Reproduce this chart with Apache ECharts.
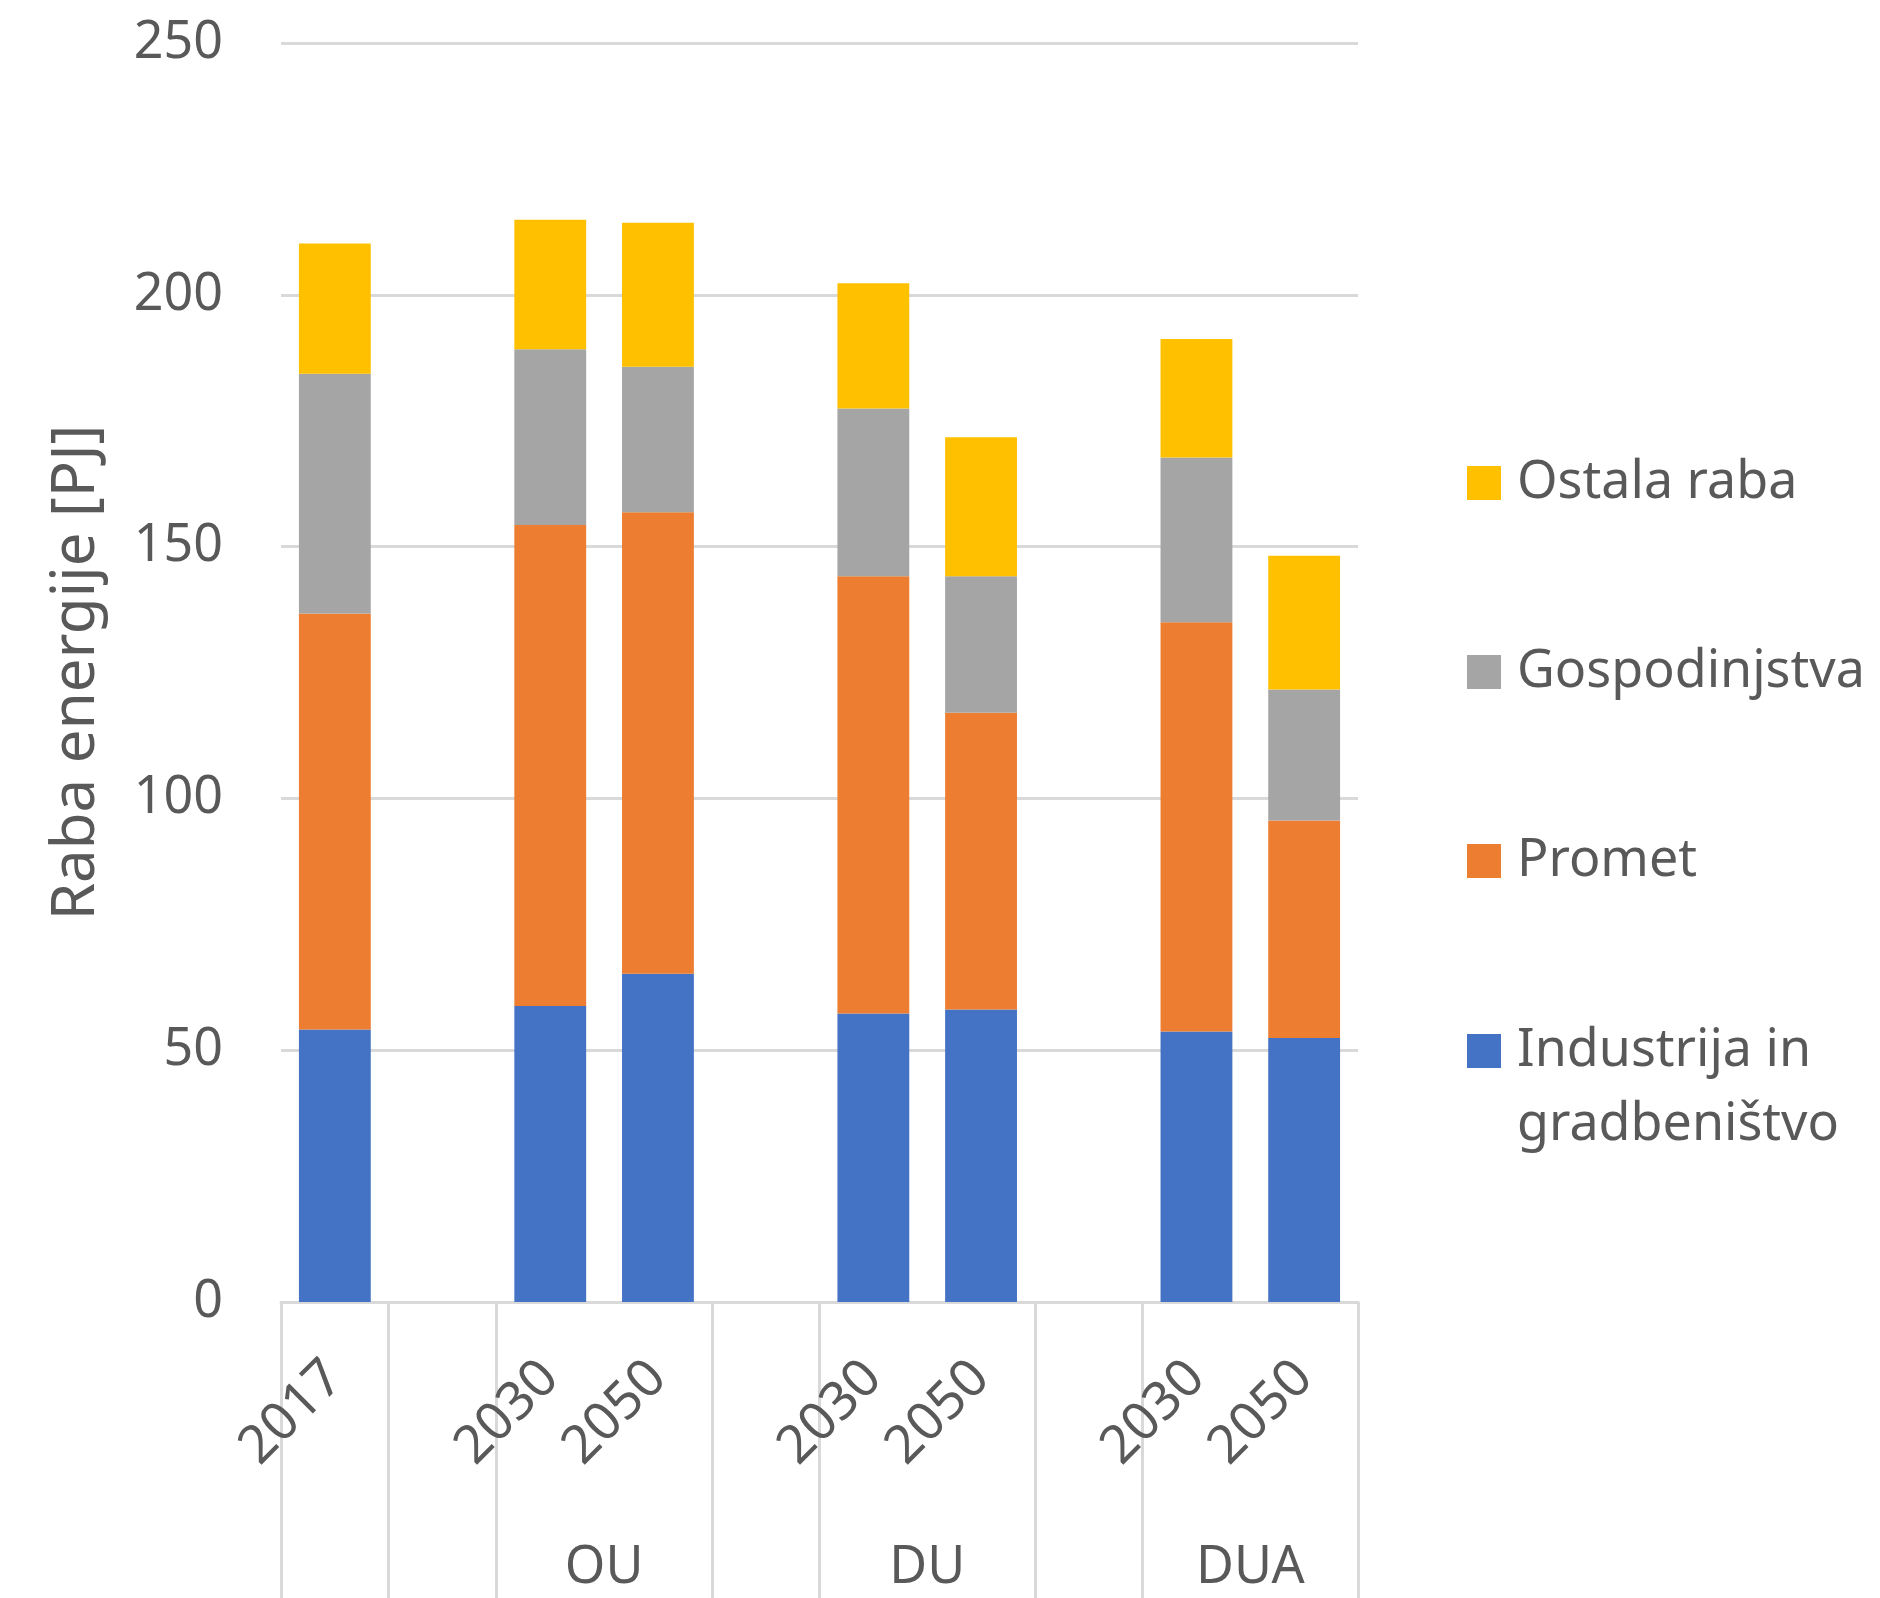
<!DOCTYPE html>
<html>
<head>
<meta charset="utf-8">
<script src="https://cdn.jsdelivr.net/npm/echarts@6/dist/echarts.min.js"></script>
<style>
  html, body { margin: 0; padding: 0; background: #ffffff; }
  #chart { width: 1880px; height: 1598px; }
</style>
</head>
<body>
<div id="chart"></div>
<script>
// Final energy use by sector [PJ]: 2017 baseline and three scenarios (OU, DU, DUA)
const categories = ['2017', '', '2030', '2050', '', '2030', '2050', '', '2030', '2050'];
const scenarioGroups = ['', '', 'OU', 'OU', '', 'DU', 'DU', '', 'DUA', 'DUA'];

const industrija    = [54.1, null, 58.8, 65.2, null, 57.3, 58.1, null, 53.7, 52.4];
const promet        = [82.6, null, 95.5, 91.6, null, 86.8, 58.9, null, 81.3, 43.2];
const gospodinjstva = [47.6, null, 34.9, 28.9, null, 33.3, 27.1, null, 32.7, 26.0];
const ostalaRaba    = [25.9, null, 25.7, 28.6, null, 24.9, 27.6, null, 23.5, 26.6];

const yMin = 0, yMax = 250, yStep = 50;

const FONT = '"Noto Sans", "Open Sans", sans-serif';
const TEXT = '#595959';
const RULE = '#d9d9d9';

// Centre of each scenario group, in category units along the axis
const groupCentres = {};
(function () {
  const acc = {};
  scenarioGroups.forEach(function (g, i) {
    if (!g) return;
    (acc[g] = acc[g] || []).push(i + 0.5);
  });
  Object.keys(acc).forEach(function (g) {
    const arr = acc[g];
    groupCentres[Math.round(arr.reduce(function (a, b) { return a + b; }, 0) / arr.length * 1000) / 1000] = g;
  });
})();

// Separator lines: between categories unless both belong to the same scenario
function separatorAt(index) {
  if (index === 0) return true;
  const g = scenarioGroups[index];
  return g === '' || g !== scenarioGroups[index - 1];
}

const chart = echarts.init(document.getElementById('chart'), null, { renderer: 'canvas' });

function barSeries(name, data, color) {
  return {
    name: name,
    type: 'bar',
    stack: 'total',
    barWidth: '66.7%',
    data: data,
    itemStyle: { color: color },
    emphasis: { disabled: true }
  };
}

const legendText = {
  fontSize: 52,
  color: TEXT,
  fontFamily: FONT,
  lineHeight: 74,
  padding: [0, 0, 0, 11]
};

chart.setOption({
  animation: false,
  backgroundColor: '#ffffff',
  textStyle: { fontFamily: FONT },
  grid: {
    left: 281,
    right: 522,
    top: 43,
    bottom: 296,
    containLabel: false,
    outerBoundsMode: 'none'
  },
  legend: [
    {
      orient: 'vertical',
      left: 1467,
      top: 446,
      padding: 0,
      itemWidth: 34,
      itemHeight: 34,
      itemGap: 115,
      icon: 'rect',
      selectedMode: false,
      data: ['Ostala raba', 'Gospodinjstva', 'Promet'],
      textStyle: legendText
    },
    {
      // two-line entry: the swatch sits beside the first line
      orient: 'vertical',
      left: 1467,
      top: 940,
      padding: 0,
      itemWidth: 34,
      itemHeight: 34,
      icon: 'rect',
      selectedMode: false,
      data: ['Industrija in gradbeništvo'],
      formatter: function (name) { return '\n' + name.replace('in ', 'in\n'); },
      textStyle: legendText
    }
  ],
  xAxis: [
    {
      type: 'category',
      data: categories,
      boundaryGap: true,
      axisLine: { show: true, lineStyle: { color: RULE, width: 3 } },
      axisTick: {
        show: true,
        interval: separatorAt,
        length: 296,
        lineStyle: { color: RULE, width: 3 }
      },
      axisLabel: {
        interval: 0,
        rotate: 45,
        margin: 68,
        fontSize: 53,
        color: TEXT,
        fontFamily: FONT
      },
      splitLine: { show: false }
    },
    {
      type: 'value',
      position: 'bottom',
      min: 0,
      max: categories.length,
      interval: 1,
      axisLine: { show: false },
      axisTick: { show: false },
      splitLine: { show: false },
      axisLabel: {
        margin: 235,
        fontSize: 52,
        lineHeight: 62,
        color: TEXT,
        fontFamily: FONT,
        showMinLabel: true,
        showMaxLabel: true,
        formatter: function (v) { return groupCentres[v] || ''; }
      }
    }
  ],
  yAxis: {
    type: 'value',
    min: yMin,
    max: yMax,
    interval: yStep,
    name: 'Raba energije [PJ]',
    nameLocation: 'middle',
    nameRotate: 90,
    nameGap: 174,
    nameTextStyle: { fontSize: 60, color: TEXT, fontFamily: FONT },
    axisLine: { show: false },
    axisTick: { show: false },
    axisLabel: { margin: 58, fontSize: 52, color: TEXT, fontFamily: FONT },
    splitLine: { show: true, lineStyle: { color: RULE, width: 3 } }
  },
  series: [
    barSeries('Industrija in gradbeništvo', industrija, '#4472C4'),
    barSeries('Promet', promet, '#ED7D31'),
    barSeries('Gospodinjstva', gospodinjstva, '#A5A5A5'),
    barSeries('Ostala raba', ostalaRaba, '#FFC000')
  ]
});
</script>
</body>
</html>
